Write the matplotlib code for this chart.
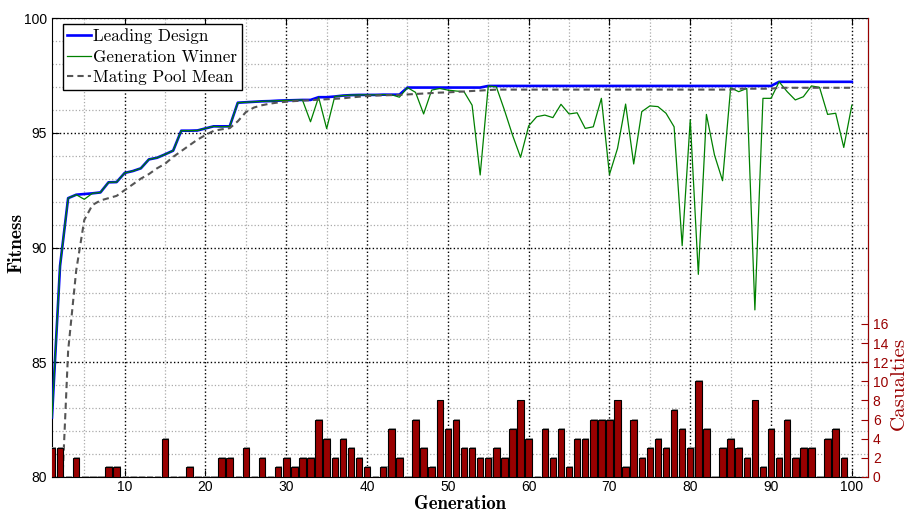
import numpy as np
import matplotlib
matplotlib.use("Agg")
import matplotlib.pyplot as plt
from matplotlib.ticker import MultipleLocator

# ---- data ----
generation = list(range(1, 101))

leading_design = [
    82.6, 89.2, 92.15, 92.3, 92.33, 92.36, 92.4, 92.84, 92.85, 93.25,
    93.33, 93.45, 93.84, 93.91, 94.06, 94.22, 95.09, 95.09, 95.1, 95.19,
    95.28, 95.28, 95.28, 96.31, 96.33, 96.35, 96.37, 96.38, 96.4, 96.41,
    96.42, 96.43, 96.43, 96.55, 96.55, 96.58, 96.62, 96.64, 96.65, 96.65,
    96.65, 96.66, 96.66, 96.66, 96.97, 96.97, 96.97, 96.97, 96.97, 96.97,
    96.97, 96.97, 96.97, 96.97, 97.04, 97.04, 97.04, 97.04, 97.04, 97.04,
    97.04, 97.04, 97.04, 97.04, 97.04, 97.04, 97.04, 97.04, 97.04, 97.04,
    97.04, 97.04, 97.04, 97.04, 97.04, 97.04, 97.04, 97.04, 97.04, 97.04,
    97.04, 97.04, 97.04, 97.04, 97.04, 97.04, 97.04, 97.04, 97.04, 97.04,
    97.22, 97.22, 97.22, 97.22, 97.22, 97.22, 97.22, 97.22, 97.22, 97.22,
]

generation_winner = [
    82.6, 89.2, 92.15, 92.3, 92.1, 92.36, 92.4, 92.84, 92.85, 93.25,
    93.33, 93.45, 93.84, 93.91, 94.06, 94.22, 95.09, 95.09, 95.1, 95.19,
    95.28, 95.26, 95.28, 96.31, 96.33, 96.35, 96.37, 96.38, 96.4, 96.41,
    96.42, 96.43, 95.48, 96.55, 95.18, 96.58, 96.62, 96.64, 96.65, 96.65,
    96.65, 96.66, 96.66, 96.55, 96.97, 96.76, 95.82, 96.86, 96.93, 96.86,
    96.82, 96.79, 96.2, 93.16, 97.04, 97.0, 95.99, 94.9, 93.93, 95.3,
    95.7, 95.77, 95.66, 96.24, 95.82, 95.87, 95.19, 95.26, 96.5, 93.18,
    94.32, 96.25, 93.64, 95.92, 96.17, 96.14, 95.85, 95.26, 90.08, 95.56,
    88.83, 95.8, 94.03, 92.91, 96.96, 96.79, 96.93, 87.28, 96.5, 96.5,
    97.22, 96.79, 96.43, 96.57, 97.04, 96.98, 95.8, 95.85, 94.36, 96.2,
]

mating_pool_mean = [
    70.0, 77.5, 85.5, 89.0, 91.2, 91.85, 92.05, 92.15, 92.25, 92.5,
    92.75, 93.0, 93.2, 93.45, 93.65, 93.95, 94.2, 94.45, 94.7, 94.9,
    95.08, 95.15, 95.2, 95.5, 95.9, 96.1, 96.2, 96.27, 96.32, 96.35,
    96.38, 96.4, 96.42, 96.44, 96.46, 96.48, 96.5, 96.54, 96.57, 96.6,
    96.62, 96.63, 96.64, 96.65, 96.67, 96.69, 96.71, 96.73, 96.75, 96.76,
    96.78, 96.8, 96.82, 96.84, 96.86, 96.88, 96.88, 96.88, 96.88, 96.88,
    96.88, 96.88, 96.88, 96.88, 96.88, 96.88, 96.88, 96.88, 96.88, 96.88,
    96.88, 96.88, 96.88, 96.88, 96.88, 96.88, 96.88, 96.88, 96.88, 96.88,
    96.88, 96.88, 96.88, 96.88, 96.88, 96.92, 96.92, 96.92, 96.92, 96.92,
    96.96, 96.96, 96.96, 96.96, 96.96, 96.96, 96.96, 96.96, 96.96, 96.96,
]

casualties = [
    3, 3, 0, 2, 0, 0, 0, 1, 1, 0,
    0, 0, 0, 0, 4, 0, 0, 1, 0, 0,
    0, 2, 2, 0, 3, 0, 2, 0, 1, 2,
    1, 2, 2, 6, 4, 2, 4, 3, 2, 1,
    0, 1, 5, 2, 0, 6, 3, 1, 8, 5,
    6, 3, 3, 2, 2, 3, 2, 5, 8, 4,
    0, 5, 2, 5, 1, 4, 4, 6, 6, 6,
    8, 1, 6, 2, 3, 4, 3, 7, 5, 3,
    10, 5, 0, 3, 4, 3, 2, 8, 1, 5,
    2, 6, 2, 3, 3, 0, 4, 5, 2, 0,
]

DARKRED = "#990000"
SERIF = "cmr10"
SERIF_BOLD = "cmb10"

plt.rcParams["font.family"] = ["Liberation Sans", "DejaVu Sans"]

fig = plt.figure(figsize=(9.07, 5.12), dpi=100)
ax = fig.add_axes([0.0573, 0.0684, 0.8997, 0.8964])

# ---- fitness lines ----
ax.plot(generation, leading_design, color="blue", lw=1.9, zorder=3,
        label="Leading Design")
ax.plot(generation, generation_winner, color="green", lw=0.9, zorder=4,
        label="Generation Winner")
ax.plot(generation, mating_pool_mean, color="#555555", lw=1.5,
        ls=(0, (3, 2)), zorder=5, label="Mating Pool Mean")

ax.set_xlim(1, 102)
ax.set_ylim(80, 100)
ax.set_xticks(range(10, 101, 10))
ax.set_yticks(range(80, 101, 5))
ax.xaxis.set_minor_locator(MultipleLocator(5))
ax.yaxis.set_minor_locator(MultipleLocator(1))
ax.grid(which="major", color="black", ls=":", lw=1.0)
ax.grid(which="minor", color="#aaaaaa", ls=":", lw=0.9)
ax.tick_params(which="major", direction="in", length=5, top=True,
               right=False, labelsize=10)
ax.tick_params(axis="x", pad=2)
ax.tick_params(which="minor", length=0)

ax.set_xlabel("Generation", family=SERIF_BOLD, fontsize=13.5)
ax.xaxis.set_label_coords(0.5, -0.039)
ax.set_ylabel("Fitness", family=SERIF_BOLD, fontsize=14)
ax.yaxis.set_label_coords(-0.032, 0.51)

leg = ax.legend(loc="upper left", bbox_to_anchor=(0.0131, 0.987),
                borderaxespad=0, prop={"family": SERIF, "size": 12.3},
                fancybox=False, framealpha=1, edgecolor="black",
                handlelength=1.4, handletextpad=0.1, labelspacing=0.3,
                borderpad=0.27)
leg.get_frame().set_linewidth(1.0)
leg.set_zorder(10)

# ---- casualties on the right axis ----
ax2 = ax.twinx()
x = np.array(generation)
ax2.bar(x + 0.13, np.array(casualties) + 0.1, width=0.8, bottom=0,
        color="#9a9a9a", zorder=1)
ax2.bar(x, casualties, width=0.8, color=DARKRED, edgecolor="black",
        linewidth=0.8, zorder=2)
ax2.set_ylim(0, 48)
ax2.set_yticks(range(0, 17, 2))
ax2.tick_params(axis="y", direction="in", length=5, colors=DARKRED,
                labelsize=10)
ax2.spines["right"].set_color(DARKRED)
for side in ("left", "top", "bottom"):
    ax2.spines[side].set_visible(False)
ax2.set_ylabel("Casualties", family=SERIF, fontsize=15, color=DARKRED)
ax2.yaxis.set_label_coords(1.027, 0.203)

fig.savefig("out.png", dpi=100)
